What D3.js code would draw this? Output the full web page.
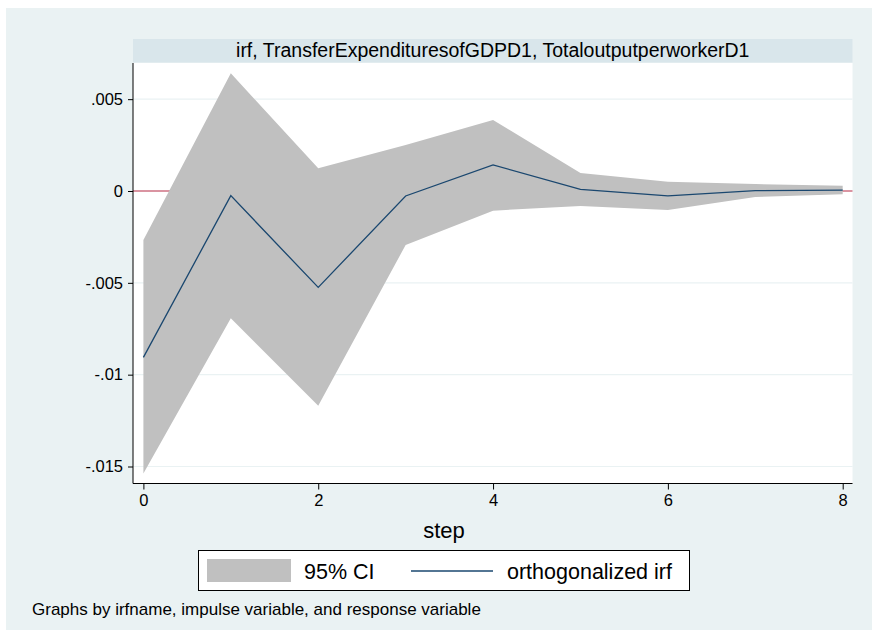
<!DOCTYPE html>
<html>
<head>
<meta charset="utf-8">
<script src="https://cdn.jsdelivr.net/npm/d3@7"></script>
<style>
  html, body { margin: 0; padding: 0; background: #ffffff; }
  svg { display: block; }
  text { font-family: "Liberation Sans", Arial, sans-serif; fill: #000; }
</style>
</head>
<body>
<svg id="chart" width="872" height="639"></svg>
<script>
// ---- data ----
const steps = [0, 1, 2, 3, 4, 5, 6, 7, 8];
const irf   = [-0.00906, -0.00025, -0.00525, -0.00027, 0.00142, 0.00009, -0.00027, 0.00002, 0.00005];
const lower = [-0.01538, -0.00693, -0.01169, -0.00294, -0.00107, -0.00082, -0.00103, -0.00033, -0.00018];
const upper = [-0.00267, 0.00641, 0.00124, 0.0025, 0.00387, 0.00098, 0.00051, 0.00038, 0.00029];
const yTicks = [0.005, 0, -0.005, -0.01, -0.015];
const yTickLabels = [".005", "0", "-.005", "-.01", "-.015"];
const xTicks = [0, 2, 4, 6, 8];
const panelTitle = "irf, TransferExpendituresofGDPD1, TotaloutputperworkerD1";
const xTitle = "step";
const legendLabels = ["95% CI", "orthogonalized irf"];
const note = "Graphs by irfname, impulse variable, and response variable";

const svg = d3.select("#chart");
const bg = "#EAF2F3";

// outer background
svg.append("rect").attr("x", 6).attr("y", 8).attr("width", 866).attr("height", 622).attr("fill", bg);

const plot = {left: 133, right: 852.5, top: 63, bottom: 483.5};

// title strip
svg.append("rect").attr("x", plot.left).attr("y", 39).attr("width", plot.right - plot.left).attr("height", 23.5).attr("fill", "#D9E6EB");
svg.append("text").attr("x", (plot.left + plot.right) / 2).attr("y", 57)
  .attr("text-anchor", "middle").style("font-size", "19.5px").text(panelTitle);

// plot area
svg.append("rect").attr("x", plot.left).attr("y", plot.top).attr("width", plot.right - plot.left)
  .attr("height", plot.bottom - plot.top).attr("fill", "#ffffff");

const x = d3.scaleLinear().domain([0, 8]).range([143.4, 842.7]);
const y = d3.scaleLinear().domain([0, -0.015]).range([191, 466.5]);

// gridlines
svg.append("g").selectAll("line").data(yTicks).join("line")
  .attr("x1", plot.left).attr("x2", plot.right)
  .attr("y1", d => y(d)).attr("y2", d => y(d))
  .attr("stroke", "#EAF2F3").attr("stroke-width", 1.2);

// zero line
svg.append("line").attr("x1", plot.left).attr("x2", plot.right)
  .attr("y1", y(0)).attr("y2", y(0)).attr("stroke", "#C0304A").attr("stroke-width", 1);

// CI area
const area = d3.area().x((d, i) => x(steps[i])).y0((d, i) => y(lower[i])).y1((d, i) => y(upper[i]));
svg.append("path").datum(steps).attr("d", area).attr("fill", "#C0C0C0");

// irf line
const line = d3.line().x((d, i) => x(steps[i])).y((d, i) => y(irf[i]));
svg.append("path").datum(steps).attr("d", line).attr("fill", "none")
  .attr("stroke", "#1A476F").attr("stroke-width", 1.3);

// axes
const yAxis = d3.axisLeft(y).tickValues(yTicks).tickFormat((d, i) => yTickLabels[i]).tickSize(5).tickPadding(5);
const gy = svg.append("g").attr("transform", `translate(${plot.left},0)`).call(yAxis);
gy.select(".domain").attr("d", `M0,${plot.top}V${plot.bottom}`).attr("stroke", "#000");
gy.selectAll(".tick line").attr("stroke", "#000");
gy.selectAll(".tick text").style("font-size", "16.5px").style("font-family", "Liberation Sans, Arial, sans-serif").attr("fill", "#000");

const xAxis = d3.axisBottom(x).tickValues(xTicks).tickFormat(d3.format("d")).tickSize(6).tickPadding(5);
const gx = svg.append("g").attr("transform", `translate(0,${plot.bottom})`).call(xAxis);
gx.select(".domain").attr("d", `M${plot.left},0H${plot.right}`).attr("stroke", "#000");
gx.selectAll(".tick line").attr("stroke", "#000");
gx.selectAll(".tick text").style("font-size", "16.5px").style("font-family", "Liberation Sans, Arial, sans-serif").attr("fill", "#000");

// x title
svg.append("text").attr("x", 444).attr("y", 538).attr("text-anchor", "middle")
  .style("font-size", "22px").text(xTitle);

// legend
const lg = svg.append("g");
lg.append("rect").attr("x", 198.5).attr("y", 550.5).attr("width", 491).attr("height", 40)
  .attr("fill", "#fff").attr("stroke", "#000").attr("stroke-width", 1);
lg.append("rect").attr("x", 207).attr("y", 559).attr("width", 84).attr("height", 23).attr("fill", "#C0C0C0");
lg.append("text").attr("x", 304).attr("y", 579).style("font-size", "21.5px").text(legendLabels[0]);
lg.append("line").attr("x1", 411).attr("x2", 493).attr("y1", 571).attr("y2", 571)
  .attr("stroke", "#1A476F").attr("stroke-width", 1.5);
lg.append("text").attr("x", 507).attr("y", 579).style("font-size", "21.5px").text(legendLabels[1]);

// note
svg.append("text").attr("x", 32).attr("y", 615).style("font-size", "17px").text(note);
</script>
</body>
</html>
